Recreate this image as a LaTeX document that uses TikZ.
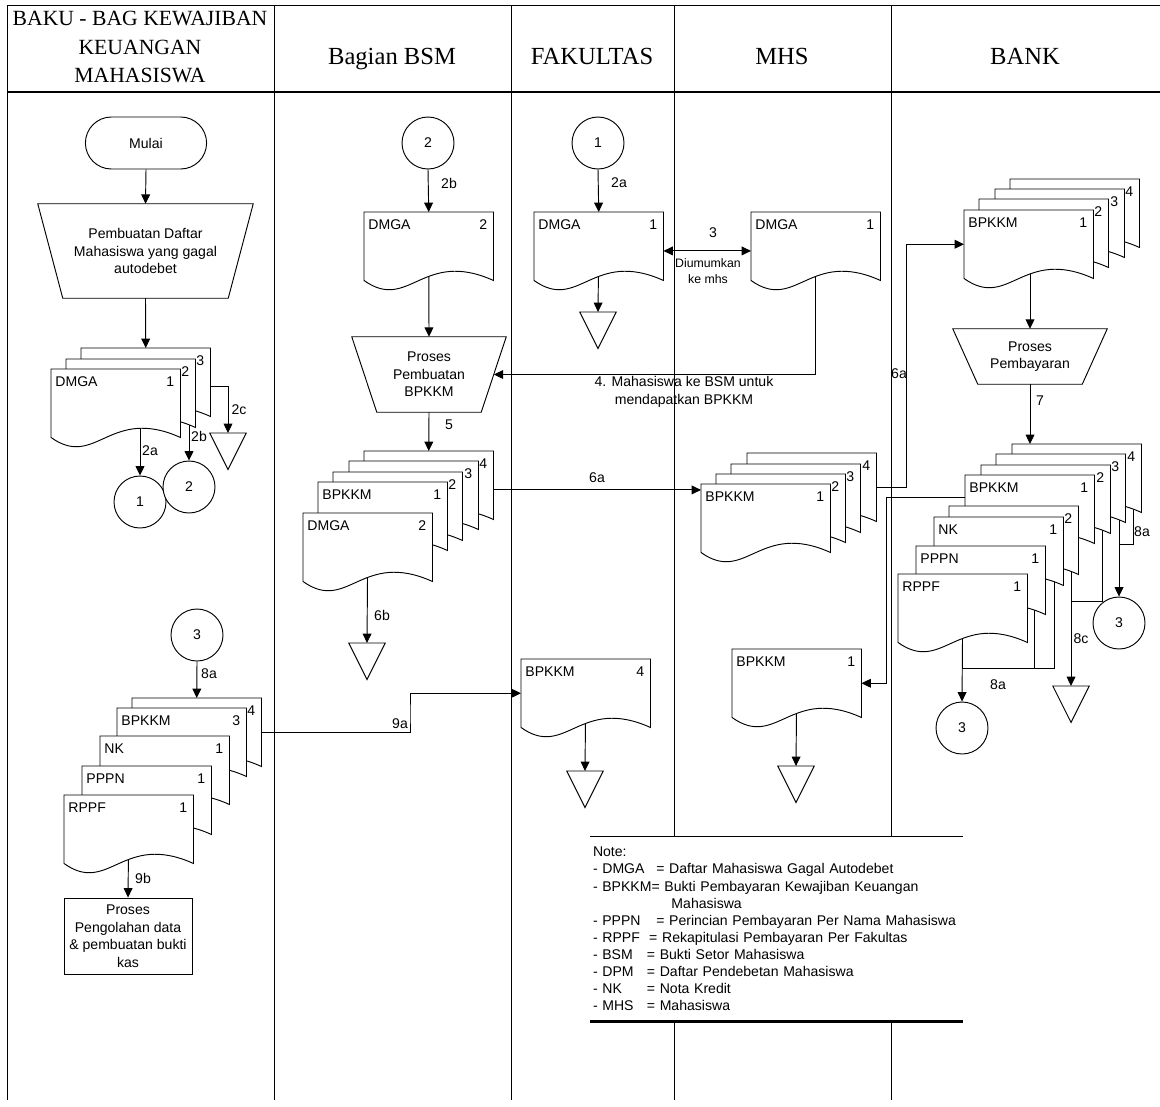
\documentclass[tikz,border=0pt]{standalone}
\usepackage{fontspec}
\setmainfont{Liberation Serif}
\newfontfamily\arialfont{Liberation Sans}
\usetikzlibrary{arrows.meta, positioning, calc, shapes.misc}
\pgfdeclarelayer{background}
\pgfsetlayers{background,main}
\tikzset{
    bodyfont/.style={font=\arialfont\fontsize{12}{15}\selectfont},
    headfont/.style={font=\fontsize{21}{24}\selectfont, anchor=base},
    laneline/.style={line width=0.8pt},
    shapeline/.style={draw, fill=white, line width=0.8pt},
    docbox/.style={rectangle, inner sep=0pt, anchor=north west,
                   minimum width=3.87cm, minimum height=2.04cm},
    doctext/.style={bodyfont, inner sep=1pt},
    edgelabel/.style={bodyfont, inner sep=0pt},
    connector/.style={circle, shapeline, bodyfont, inner sep=0pt,
                      minimum size=1.56cm},
    termnode/.style={rounded rectangle, shapeline, bodyfont,
                     minimum width=3.87cm, minimum height=1.56cm},
    procnode/.style={rectangle, shapeline, bodyfont, align=center,
                     minimum width=3.84cm, minimum height=2.28cm, inner sep=0pt},
    manbox/.style={rectangle, bodyfont, align=center, inner sep=0pt},
    sinkbox/.style={rectangle, inner sep=0pt, anchor=north,
                    minimum width=1.08cm, minimum height=1.08cm},
    notebox/.style={rectangle, fill=white, inner xsep=0.09cm, inner ysep=0pt,
                    minimum width=11.19cm, minimum height=5.52cm,
                    text width=11.01cm, align=left,
                    font=\arialfont\fontsize{12}{14.6}\selectfont},
    flowedge/.style={-{Triangle[length=8pt, width=7.5pt]}, line width=0.8pt},
    bothedge/.style={{Triangle[length=8pt, width=7.5pt]}-{Triangle[length=8pt, width=7.5pt]},
                     line width=0.8pt},
    plainedge/.style={-, line width=0.8pt},
}

% Document sheet with a wavy bottom: name, top-left corner, title, copy number.
\newcommand{\docsheet}[4]{%
  \node[docbox] (#1) at (#2) {};
  \draw[shapeline] (#1.south west) -- (#1.north west) -- (#1.north east) -- (#1.south east)
      .. controls +(-71,-32) and +(45,32) .. (#1.south west) -- cycle;
  \node[doctext, anchor=north west] (#1-t) at ([shift={(3,6)}]#1.north west) {#3};
  \node[doctext, anchor=north east] (#1-n) at ([shift={(-5,6)}]#1.north east) {#4};
}
% Manual operation (wide side on top): name, centre, width, height, text.
\newcommand{\manualop}[5]{%
  \node[manbox, minimum width=#3, minimum height=#4] (#1) at (#2) {#5};
  \coordinate (#1-se) at ([xshift=-0.75cm]#1.south east);
  \coordinate (#1-sw) at ([xshift=0.75cm]#1.south west);
  \draw[line width=0.8pt] (#1.north west) -- (#1.north east) -- (#1-se) -- (#1-sw) -- cycle;
  \coordinate (#1-e) at ($(#1.north east)!0.5!(#1-se)$);
}
% Archive triangle: name, top centre.
\newcommand{\sink}[2]{%
  \node[sinkbox] (#1) at (#2) {};
  \draw[shapeline] (#1.north west) -- (#1.north east) -- (#1.south) -- cycle;
}

\begin{document}
\begin{tikzpicture}[x=0.03cm, y=-0.03cm]
\useasboundingbox (0,0) rectangle (1160,1106);
% Lane headers.
\node[font=\fontsize{18.5}{24}\selectfont, align=center] (hbaku) at (140,47)
    {BAKU - BAG KEWAJIBAN\\KEUANGAN\\MAHASISWA};
\node[headfont] (hbsm) at (392,64) {Bagian BSM};
\node[headfont] (hfak) at (592,64) {FAKULTAS};
\node[headfont] (hmhs) at (782,64) {MHS};
\node[headfont] (hbank) at (1025,64) {BANK};

% Lane 1: BAKU.
\node[termnode] (start) at (146,143) {Mulai};
\manualop{mkdmga}{145.5,251}{6.45cm}{2.82cm}{Pembuatan Daftar\\Mahasiswa yang gagal\\autodebet}
\docsheet{ls3}{81,348}{}{3}
\docsheet{ls2}{66,359}{}{2}
\docsheet{ls1}{51,369}{DMGA}{1}
\node[connector] (c1a) at (140,502) {1};
\node[connector] (c2a) at (189,487) {2};
\sink{t2c}{228,433}
\node[connector] (c3a) at (197,635) {3};
\docsheet{lb4}{132,698}{}{4}
\docsheet{lb3}{117,708}{BPKKM}{3}
\docsheet{lnk}{100,736}{NK}{1}
\docsheet{lpp}{82,766}{PPPN}{1}
\docsheet{lrp}{64,795}{RPPF}{1}
\node[procnode] (kas) at (128,936) {Proses\\Pengolahan data\\\& pembuatan bukti\\kas};

% Lane 2: Bagian BSM.
\node[connector] (c2b) at (428,143) {2};
\docsheet{bd2}{364,212}{DMGA}{2}
\manualop{mkbpkkm}{429,374.5}{4.62cm}{2.25cm}{Proses\\Pembuatan\\BPKKM}
\docsheet{bs4}{364,451}{}{4}
\docsheet{bs3}{349,461}{}{3}
\docsheet{bs2}{333,472}{}{2}
\docsheet{bs1}{318,482}{BPKKM}{1}
\docsheet{bdm}{303,513}{DMGA}{2}
\sink{t6b}{367,643}

% Lane 3: Fakultas.
\node[connector] (c1b) at (598,143) {1};
\docsheet{fd1}{534,212}{DMGA}{1}
\sink{tfak}{598,312}
\docsheet{fb4}{521,659}{BPKKM}{4}
\sink{tfb}{585,771}

% Lane 4: MHS.
\docsheet{md1}{751,212}{DMGA}{1}
\docsheet{ms4}{747,453}{}{4}
\docsheet{ms3}{731,464}{}{3}
\docsheet{ms2}{716,474}{}{2}
\docsheet{ms1}{701,484}{BPKKM}{1}
\docsheet{mb1}{732,649}{BPKKM}{1}
\sink{tmb}{796,766}

% Lane 5: Bank.
\docsheet{ku4}{1010,179}{}{4}
\docsheet{ku3}{995,189}{}{3}
\docsheet{ku2}{979,199}{}{2}
\docsheet{ku1}{964,210}{BPKKM}{1}
\manualop{bayar}{1030,356.5}{4.62cm}{1.65cm}{Proses\\Pembayaran}
\docsheet{kl4}{1012,444}{}{4}
\docsheet{kl3}{996,454}{}{3}
\docsheet{kl2}{981,465}{}{2}
\docsheet{kl1}{965,475}{BPKKM}{1}
\docsheet{kn2}{949,506}{}{2}
\docsheet{kn1}{934,517}{NK}{1}
\docsheet{kp1}{916,546}{PPPN}{1}
\docsheet{kr1}{898,574}{RPPF}{1}
\node[connector] (c3b) at (1119,623) {3};
\node[connector] (c3c) at (962,728) {3};
\sink{t8c}{1071,686}

% Note.
\node[notebox] (note) at (776.5,929) {Note:\\
    \makebox[54pt][l]{- DMGA}= Daftar Mahasiswa Gagal Autodebet\\
    - BPKKM= Bukti Pembayaran Kewajiban Keuangan\\
    \hspace*{67pt}Mahasiswa\\
    \makebox[54pt][l]{- PPPN}= Perincian Pembayaran Per Nama Mahasiswa\\
    \makebox[48pt][l]{- RPPF}= Rekapitulasi Pembayaran Per Fakultas\\
    \makebox[46pt][l]{- BSM}= Bukti Setor Mahasiswa\\
    \makebox[46pt][l]{- DPM}= Daftar Pendebetan Mahasiswa\\
    \makebox[46pt][l]{- NK}= Nota Kredit\\
    \makebox[46pt][l]{- MHS}= Mahasiswa};
\draw[line width=1.2pt] (note.north west) -- (note.north east);
\draw[line width=2.5pt] (note.south west) -- (note.south east);

% Edge labels.
\node[edgelabel] (e2a) at (150,451) {2a};
\node[edgelabel] (e2b) at (199,436) {2b};
\node[edgelabel] (e2c) at (239,410) {2c};
\node[edgelabel] (e2bb) at (449,183) {2b};
\node[edgelabel] (e2ab) at (619,183) {2a};
\node[edgelabel] (e3) at (713,233) {3};
\node[edgelabel, font=\arialfont\fontsize{10.5}{13.5}\selectfont, align=center]
    (e3t) at (708,271) {Diumumkan\\ke mhs};
\node[edgelabel, align=center] (e4) at (684,392) {4. Mahasiswa ke BSM untuk\\mendapatkan BPKKM};
\node[edgelabel] (e5) at (449,425) {5};
\node[edgelabel] (e6a) at (597,478) {6a};
\node[edgelabel] (e6b) at (382,615) {6b};
\node[edgelabel] (e6ab) at (899,374) {6a};
\node[edgelabel] (e7) at (1040,401) {7};
\node[edgelabel] (e8a) at (1142,532) {8a};
\node[edgelabel] (e8c) at (1081,639) {8c};
\node[edgelabel] (e8ab) at (998,685) {8a};
\node[edgelabel] (e8ac) at (209,674) {8a};
\node[edgelabel] (e9a) at (400,724) {9a};
\node[edgelabel] (e9b) at (143,878) {9b};

% Bends and offsets of the connectors.
\coordinate (j9a) at (410,715);
\coordinate (j6a) at (906,350);
\coordinate (j6b) at (886,600);
\coordinate (j8a) at (1133,544);
\coordinate (j8c) at (1102,601);
\coordinate (j8b) at (1054,668);
\coordinate (j8d) at (1034,668);
\coordinate (o6a) at ([yshift=-4pt]bs4.east);
\coordinate (o3a) at ([yshift=-4pt]fd1.east);
\coordinate (o6b) at ([yshift=10pt]kl1.west);
\coordinate (o2c) at ([yshift=-4pt]ls3.east);

\begin{pgfonlayer}{background}
% Swimlane frame.
\draw[laneline] (7,5) -- (1160,5);
\draw[line width=1.5pt] (7,92) -- (1160,92);
\foreach \x in {7,274,511,674,891}
    \draw[laneline] (\x,5) -- (\x,1100);
% Flows.
\draw[flowedge] (start.south) -- (mkdmga.north);
\draw[flowedge] (mkdmga.south) -- (ls3.north);
\draw[flowedge] (c1a |- ls1.center) -- (c1a.north);
\draw[flowedge] (c2a |- ls2.center) -- (c2a.north);
\draw[flowedge] (o2c) -| (t2c.north);
\draw[flowedge] (c3a.south) -- (lb4.north);
\draw[flowedge] (lb4.east) -| (j9a) |- (fb4.west);
\draw[flowedge] (lrp.center) -- (kas.north);
\draw[flowedge] (c2b.south) -- (bd2.north);
\draw[flowedge] (bd2.center) -- (mkbpkkm.north);
\draw[flowedge] (mkbpkkm.south) -- (bs4.north);
\draw[flowedge] (o6a) -- (o6a -| ms1.west);
\draw[flowedge] (bdm.center) -- (t6b.north);
\draw[flowedge] (c1b.south) -- (fd1.north);
\draw[flowedge] (fd1.center) -- (tfak.north);
\draw[bothedge] (o3a) -- (o3a -| md1.west);
\draw[flowedge] (md1.center) |- (mkbpkkm-e);
\draw[flowedge] (ms4.east) -| (j6a) |- (ku1.west);
\draw[flowedge] (o6b) -| (j6b) |- (mb1.east);
\draw[flowedge] (fb4.center) -- (tfb.north);
\draw[flowedge] (mb1.center) -- (tmb.north);
\draw[flowedge] (bayar.north |- ku1.center) -- (bayar.north);
\draw[flowedge] (bayar.south) -- (bayar.south |- kl4.north);
\draw[flowedge] (c3b |- kl3.center) -- (c3b.north);
\draw[plainedge] (j8a |- kl4.center) -- (j8a) -- (j8a -| c3b);
\draw[flowedge] (t8c.north |- kn2.center) -- (t8c.north);
\draw[plainedge] (j8c |- kl2.center) -- (j8c) -- (j8c -| t8c);
\draw[flowedge] (kr1.center) -- (c3c.north);
\draw[plainedge] (j8d |- kp1.center) -- (j8d);
\draw[plainedge] (j8b |- kn1.center) -- (j8b) -- (j8b -| c3c);
\end{pgfonlayer}
\end{tikzpicture}
\end{document}
